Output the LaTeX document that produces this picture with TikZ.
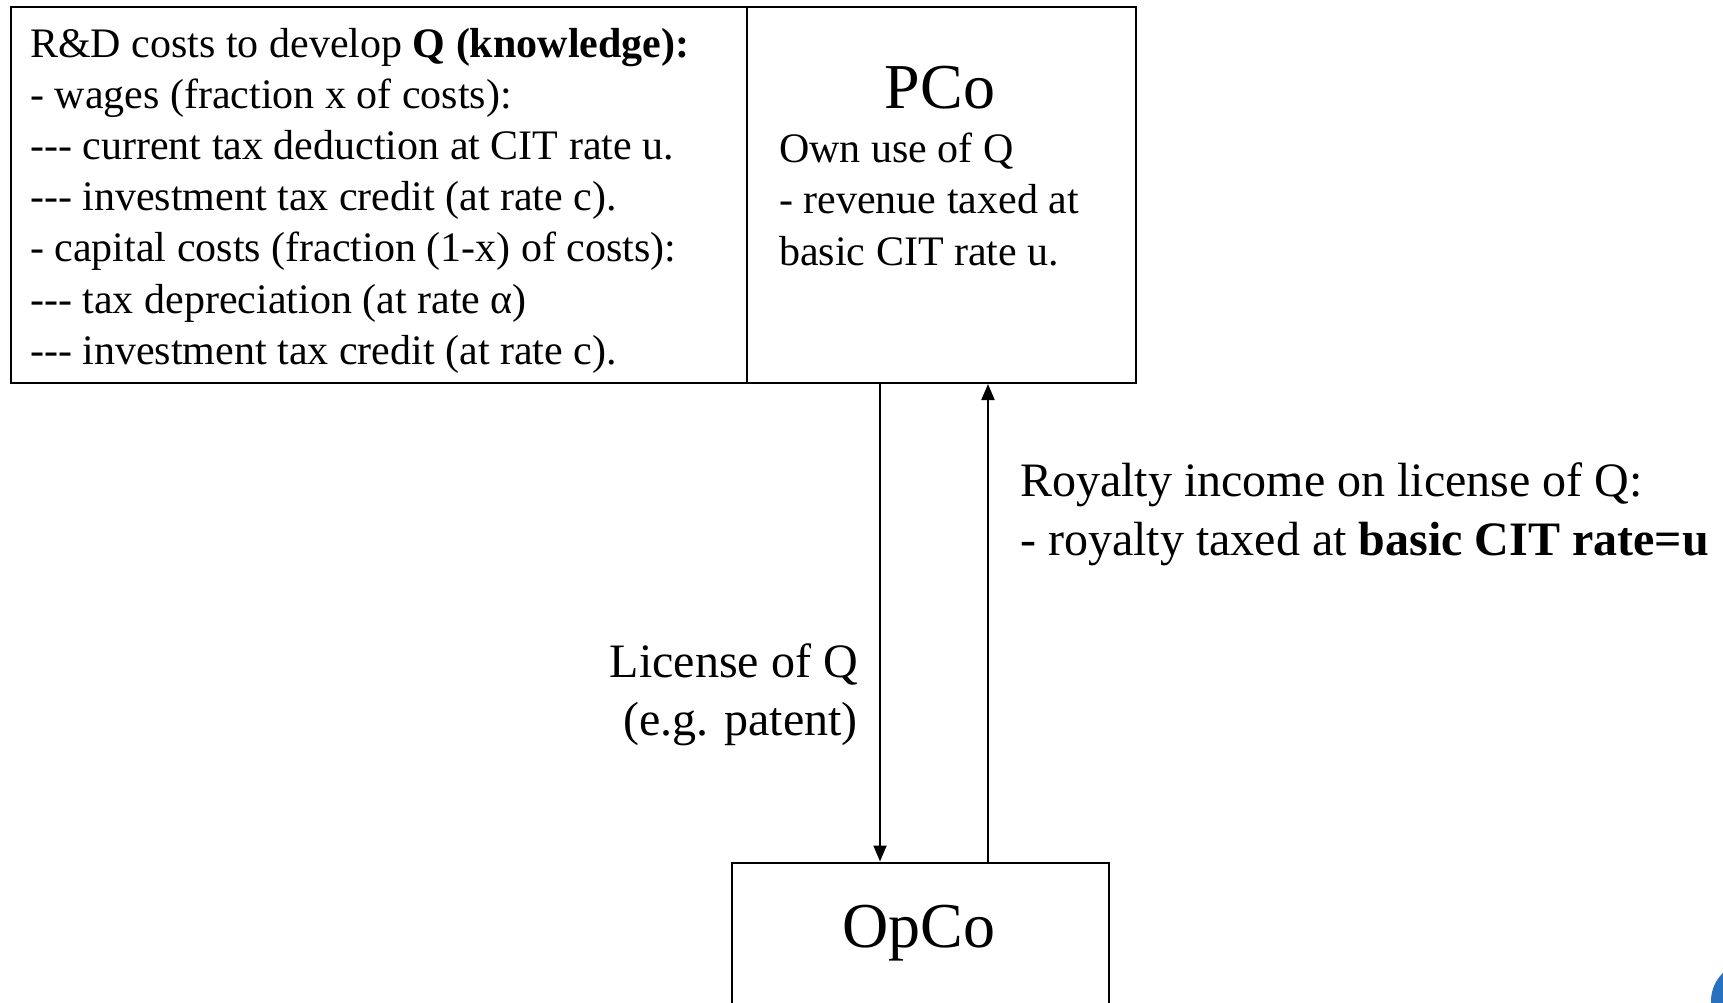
\documentclass[tikz,border=0pt]{standalone}
\usepackage{fontspec}
\setmainfont{Liberation Serif}
\usetikzlibrary{arrows.meta}
\definecolor{logoblue}{RGB}{40,112,192}
\tikzset{
  box/.style={draw, line width=2pt, inner sep=0pt, anchor=north west},
  txt/.style={inner sep=0pt, anchor=base west, font=\fontsize{42}{51}\selectfont},
  bigtxt/.style={inner sep=0pt, font=\fontsize{48}{58}\selectfont},
  title/.style={inner sep=0pt, anchor=base, font=\fontsize{64}{72}\selectfont},
  flow/.style={line width=2pt, -{Triangle[length=16pt,width=13pt]}},
}
\begin{document}
\begin{tikzpicture}[x=1pt,y=-1pt]
\useasboundingbox (0,0) rectangle (1723,1002);
\clip (0,0) rectangle (1723,1002);

% boxes
\node[box, minimum width=736pt, minimum height=376pt] (rd) at (10,5.5) {};
\node[box, minimum width=389pt, minimum height=376.5pt] (pco) at (746,5.5) {};
\node[box, minimum width=377pt, minimum height=170pt] (opco) at (731,861.5) {};

% R&D cost list
\node[txt] (l1) at (30,57) {R\&D costs to develop \textbf{Q (knowledge):}};
\node[txt] (l2) at (30,108.2) {- wages (fraction x of costs):};
\node[txt] (l3) at (30,159.4) {-{}-{}- current tax deduction at CIT rate u.};
\node[txt] (l4) at (30,210.6) {-{}-{}- investment tax credit (at rate c).};
\node[txt] (l5) at (30,261.8) {- capital costs (fraction (1-x) of costs):};
\node[txt] (l6) at (30,313) {-{}-{}- tax depreciation (at rate α)};
\node[txt] (l7) at (30,364.2) {-{}-{}- investment tax credit (at rate c).};

% PCo
\node[title] (pconame) at (940,108) {PCo};
\node[txt] (p1) at (779,162) {Own use of Q};
\node[txt] (p2) at (779,213.5) {- revenue taxed at};
\node[txt] (p3) at (779,265) {basic CIT rate u.};

% OpCo
\node[title] (opconame) at (919,947) {OpCo};

% connectors
\path (pco.south west) ++(134,0) coordinate (downtop);
\path (pco.south west) ++(242,0) coordinate (uptop);
\draw[flow] (downtop) -- (downtop |- opco.north);
\draw[flow] (uptop |- opco.north) -- (uptop);

% connector labels
\node[bigtxt, anchor=base west] (roy1) at (1020,496) {Royalty income on license of Q:};
\node[bigtxt, anchor=base west] (roy2) at (1020,555) {- royalty taxed at \textbf{basic CIT rate=u}};
\node[bigtxt, anchor=base east] (lic1) at (858,677) {License of Q};
\node[bigtxt, anchor=base east] (lic2) at (858,735) {(e.g. patent)};

% corner mark
\fill[logoblue] (1750,1001) circle (39);
\end{tikzpicture}
\end{document}
